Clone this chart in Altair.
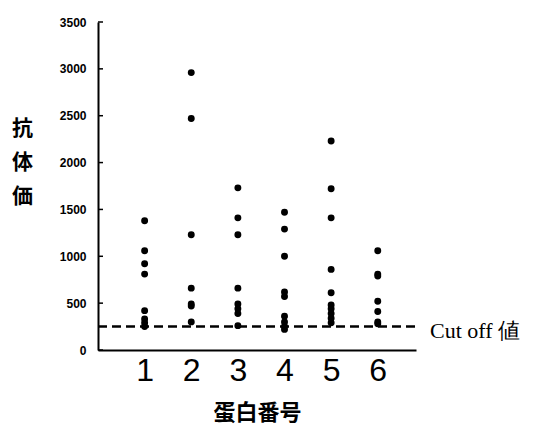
import altair as alt
import pandas as pd

groups = [1, 2, 3, 4, 5, 6]
g1 = [1380, 1060, 920, 810, 420, 330, 290, 250]
g2 = [2960, 2470, 1230, 660, 490, 470, 300]
g3 = [1730, 1410, 1230, 660, 490, 440, 390, 260]
g4 = [1470, 1290, 1000, 620, 570, 360, 300, 250, 220]
g5 = [2230, 1720, 1410, 860, 610, 480, 440, 390, 340, 290]
g6 = [1060, 810, 790, 520, 410, 300, 280]
cutoff = 250
y_ticks = [0, 500, 1000, 1500, 2000, 2500, 3000, 3500]
x_min, x_max = 0, 6.82

rows = []
for g, vals in zip(groups, [g1, g2, g3, g4, g5, g6]):
    for v in vals:
        rows.append({"group": g, "value": v})
df = pd.DataFrame(rows)

xs = alt.Scale(domain=[x_min, x_max], nice=False, zero=False)
ys = alt.Scale(domain=[0, 3500], nice=False)

points = alt.Chart(df).mark_circle(size=48, color="black", opacity=1).encode(
    x=alt.X("group:Q", scale=xs,
            axis=alt.Axis(values=groups, format="d", title="蛋白番号", grid=False,
                          tickSize=0, labelPadding=5, labelFontSize=32,
                          labelFont="Liberation Sans", labelColor="black",
                          domainColor="black", domainWidth=2,
                          titleFont="Noto Sans CJK JP", titleFontSize=22,
                          titleFontWeight="bold", titleColor="black",
                          titleBaseline="top", titleY=52)),
    y=alt.Y("value:Q", scale=ys,
            axis=alt.Axis(values=y_ticks, format="d", title=["抗", "体", "価"], grid=False,
                          tickSize=0, labelPadding=12, labelFontSize=12,
                          labelFont="Liberation Sans", labelFontWeight="bold",
                          labelColor="black", domainColor="black", domainWidth=2,
                          titleAngle=0, titleFont="Noto Sans CJK JP",
                          titleFontSize=21, titleFontWeight="bold",
                          titleColor="black", titleAlign="center",
                          titleBaseline="top", titleLineHeight=34,
                          titleX=-76, titleY=95)),
)

tick_df = pd.DataFrame({"t": y_ticks})
ticks = alt.Chart(tick_df).mark_rule(color="black", strokeWidth=1.5).encode(
    y=alt.Y("t:Q", scale=ys), x=alt.value(0), x2=alt.value(5)
)

cut_df = pd.DataFrame({"y": [cutoff], "x0": [x_min], "x1": [x_max], "label": ["Cut off 値"]})
cut_line = alt.Chart(cut_df).mark_rule(color="black", strokeWidth=2.5, strokeDash=[9, 5]).encode(
    y=alt.Y("y:Q", scale=ys), x=alt.X("x0:Q", scale=xs), x2="x1:Q"
)
cut_text = alt.Chart(cut_df).mark_text(
    align="left", baseline="middle", dx=14, dy=4, fontSize=22,
    font="Liberation Serif", color="black"
).encode(
    x=alt.X("x1:Q", scale=xs), y=alt.Y("y:Q", scale=ys), text="label:N"
)

chart = alt.layer(points, ticks, cut_line, cut_text).properties(
    width=318, height=328,
    autosize=alt.AutoSizeParams(type="none"),
    padding={"left": 90, "top": 14, "right": 113, "bottom": 78},
).configure_view(stroke=None)

chart.save("out.html", embed_options={"renderer": "svg", "actions": False})
